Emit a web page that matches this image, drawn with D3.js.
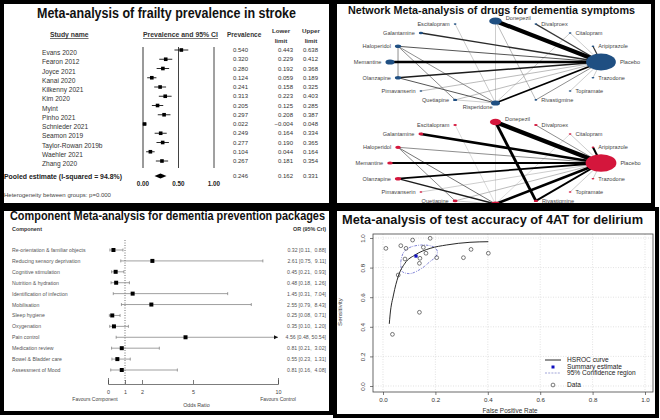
<!DOCTYPE html>
<html>
<head>
<meta charset="utf-8">
<script src="https://cdn.jsdelivr.net/npm/d3@7"></script>
<style>
  html, body { margin: 0; padding: 0; background: #fff; }
  svg { display: block; font-family: "Liberation Sans", Arial, sans-serif; }
</style>
</head>
<body>
<svg id="chart" width="660" height="420"></svg>
<script>
// ---------- data: frailty prevalence ----------
var frailtyStudies = ['Evans 2020', 'Fearon 2012', 'Joyce 2021', 'Kanai 2020', 'Kilkenny 2021', 'Kim 2020', 'Myint',
    'Pinho 2021', 'Schnieder 2021', 'Seamon 2019', 'Taylor-Rowan 2019b', 'Waehler 2021', 'Zhang 2020'];
var frailtyPrev = [0.540, 0.320, 0.280, 0.124, 0.241, 0.313, 0.205, 0.297, 0.022, 0.249, 0.277, 0.104, 0.267];
var frailtyLower = [0.443, 0.229, 0.192, 0.059, 0.158, 0.223, 0.125, 0.208, -0.004, 0.164, 0.190, 0.044, 0.181];
var frailtyUpper = [0.638, 0.412, 0.368, 0.189, 0.325, 0.403, 0.285, 0.387, 0.048, 0.334, 0.365, 0.164, 0.354];
var frailtyPooled = [0.246, 0.162, 0.331];
var frailtyTicks = [0, 0.5, 1];

// ---------- data: network meta-analysis ----------
var netNodes = ['Placebo', 'Aripiprazole', 'Citalopram', 'Divalproex', 'Donepezil', 'Escitalopram', 'Galantamine',
    'Haloperidol', 'Memantine', 'Olanzapine', 'Pimavanserin', 'Quetiapine', 'Risperidone', 'Rivastigmine',
    'Topiramate', 'Trazodone'];
var netSizeTop = [8.5, 0.8, 0.8, 0.8, 3.6, 0.8, 1.2, 1.8, 2.6, 1.8, 0.8, 1.2, 2.6, 0.8, 0.8, 0.8];
var netSizeBottom = [8.8, 0.8, 0.8, 1.0, 3.2, 1.0, 1.4, 1.6, 1.6, 1.8, 0.8, 1.4, 2.4, 1.2, 0.8, 0.8];
var netFrom = ['Placebo', 'Placebo', 'Placebo', 'Placebo', 'Placebo', 'Placebo', 'Placebo', 'Placebo', 'Placebo',
    'Placebo', 'Placebo', 'Placebo', 'Placebo', 'Placebo', 'Donepezil', 'Donepezil', 'Haloperidol', 'Haloperidol',
    'Haloperidol', 'Olanzapine', 'Quetiapine', 'Escitalopram', 'Citalopram'];
var netTo = ['Aripiprazole', 'Citalopram', 'Divalproex', 'Donepezil', 'Galantamine', 'Haloperidol', 'Memantine',
    'Olanzapine', 'Pimavanserin', 'Quetiapine', 'Risperidone', 'Rivastigmine', 'Topiramate', 'Trazodone',
    'Rivastigmine', 'Risperidone', 'Olanzapine', 'Quetiapine', 'Risperidone', 'Risperidone', 'Risperidone',
    'Risperidone', 'Risperidone'];
var netWidthTop = [1.2, 0.5, 1.2, 4.2, 1.3, 1.0, 2.6, 1.4, 0.6, 0.6, 1.8, 0.8, 0.5, 0.5, 0.6, 0.5, 0.8, 0.8, 0.8,
    1.0, 0.5, 0.5, 0.5];
var netWidthBottom = [2.0, 0.5, 0.8, 4.5, 2.6, 0.8, 1.8, 1.8, 0.5, 0.6, 2.6, 2.0, 0.5, 0.5, 2.8, 0.4, 0, 0.8, 0.9,
    1.4, 0.5, 0.4, 0.4];

// ---------- data: component meta-analysis ----------
var components = ['Re-orientation & familiar objects', 'Reducing sensory deprivation', 'Cognitive stimulation',
    'Nutrition & hydration', 'Identification of infection', 'Mobilisation', 'Sleep hygiene', 'Oxygenation',
    'Pain control', 'Medication review', 'Bowel & Bladder care', 'Assessment of Mood'];
var compOR = [0.32, 2.61, 0.45, 0.48, 1.45, 2.55, 0.25, 0.35, 4.56, 0.81, 0.55, 0.81];
var compLow = [0.11, 0.75, 0.21, 0.18, 0.31, 0.79, 0.08, 0.10, 0.48, 0.21, 0.23, 0.16];
var compHigh = [0.88, 9.11, 0.93, 1.26, 7.04, 8.43, 0.71, 1.20, 50.54, 3.02, 1.31, 4.08];
var compTicks = [0, 1, 2, 5, 10];

// ---------- data: 4AT test accuracy ----------
var studyFpr = [0.011, 0.068, 0.113, 0.180, 0.088, 0.154, 0.084, 0.141, 0.139, 0.164, 0.205, 0.307, 0.336, 0.402,
    0.058, 0.139, 0.036];
var studySens = [0.930, 0.948, 0.986, 0.998, 0.930, 0.937, 0.858, 0.863, 0.829, 0.897, 0.867, 0.867, 0.923, 0.897,
    0.750, 0.498, 0.349];
var summaryPoint = [0.126, 0.878];
var curveFpr = [0.024, 0.027, 0.040, 0.058, 0.084, 0.122, 0.180, 0.243, 0.332, 0.402];
var curveSens = [0.420, 0.480, 0.615, 0.740, 0.830, 0.885, 0.930, 0.953, 0.971, 0.975];
var regionFpr = [0.071, 0.068, 0.080, 0.109, 0.154, 0.192, 0.207, 0.202, 0.179, 0.148, 0.109, 0.080];
var regionSens = [0.784, 0.840, 0.907, 0.941, 0.953, 0.941, 0.912, 0.874, 0.840, 0.795, 0.761, 0.766];
var rocTicks = [0, 0.2, 0.4, 0.6, 0.8, 1];

var svg = d3.select('#chart');

var addText = function(g, x, y, str, size, opts) {
    opts = opts || {};
    var t = g.append('text')
        .attr('x', x)
        .attr('y', y)
        .attr('font-size', size)
        .attr('text-anchor', opts.anchor || 'start')
        .attr('font-weight', opts.bold ? 'bold' : 'normal')
        .attr('fill', opts.fill || '#222')
        .style('white-space', 'pre')
        .text(str);
    if (opts.width) {
        t.attr('textLength', opts.width).attr('lengthAdjust', 'spacingAndGlyphs');
    }
    if (opts.underline) {
        t.style('text-decoration', 'underline');
    }
    return t;
};

// ---------- panel 1: frailty forest plot ----------
var drawFrailty = function() {
    var g = svg.append('g');
    var fx = d3.scaleLinear().domain([0, 1]).range([143, 214]);
    var fy = d3.scalePoint().domain(frailtyStudies).range([50, 161]);
    var f3 = d3.format('.3f');

    addText(g, 37, 18, 'Meta-analysis of frailty prevalence in stroke', 14, {bold: true, width: 259, fill: '#111'});

    addText(g, 50, 37, 'Study name', 6.8, {bold: true, underline: true, fill: '#333'});
    addText(g, 143, 37, 'Prevalence and 95% CI', 6.5, {bold: true, underline: true, fill: '#333', width: 75});
    addText(g, 227, 37, 'Prevalence', 6.5, {bold: true, fill: '#333'});
    addText(g, 281, 33, 'Lower', 6.2, {bold: true, anchor: 'middle', fill: '#333'});
    addText(g, 281, 43, 'limit', 6.2, {bold: true, anchor: 'middle', fill: '#333'});
    addText(g, 311, 33, 'Upper', 6.2, {bold: true, anchor: 'middle', fill: '#333'});
    addText(g, 311, 43, 'limit', 6.2, {bold: true, anchor: 'middle', fill: '#333'});

    frailtyTicks.forEach(function(v, i) {
        g.append('line')
            .attr('x1', fx(v)).attr('x2', fx(v))
            .attr('y1', 47).attr('y2', 168)
            .style('stroke', i === 0 ? '#9a9a9a' : '#111')
            .style('stroke-width', i === 0 ? 2 : 0.8);
        addText(g, fx(v), 186, d3.format('.2f')(v), 6.3, {bold: true, anchor: 'middle', fill: '#222'});
    });

    frailtyStudies.forEach(function(name, i) {
        var y = fy(name);
        addText(g, 42, y + 5, name, 6.6, {fill: '#333'});
        g.append('line')
            .attr('x1', fx(frailtyLower[i])).attr('x2', fx(frailtyUpper[i]))
            .attr('y1', y).attr('y2', y)
            .style('stroke', '#111').style('stroke-width', 0.9);
        g.append('rect')
            .attr('x', fx(frailtyPrev[i]) - 1.8).attr('y', y - 1.8)
            .attr('width', 3.6).attr('height', 3.6)
            .attr('fill', '#000');
        addText(g, 248, y + 2, f3(frailtyPrev[i]), 6, {anchor: 'end', fill: '#333'});
        addText(g, 293, y + 2, f3(frailtyLower[i]), 6, {anchor: 'end', fill: '#333'});
        addText(g, 318, y + 2, f3(frailtyUpper[i]), 6, {anchor: 'end', fill: '#333'});
    });

    var py = 176;
    g.append('path')
        .attr('d', 'M' + fx(frailtyPooled[1]) + ',' + py + 'L' + fx(frailtyPooled[0]) + ',' + (py - 2.5) +
            'L' + fx(frailtyPooled[2]) + ',' + py + 'L' + fx(frailtyPooled[0]) + ',' + (py + 2.5) + 'Z')
        .attr('fill', '#000');
    addText(g, 4, py + 2.5, 'Pooled estimate (I-squared = 94.8%)', 6.4, {bold: true, fill: '#222', width: 118});
    addText(g, 248, py + 2, f3(frailtyPooled[0]), 6, {anchor: 'end', fill: '#333'});
    addText(g, 293, py + 2, f3(frailtyPooled[1]), 6, {anchor: 'end', fill: '#333'});
    addText(g, 318, py + 2, f3(frailtyPooled[2]), 6, {anchor: 'end', fill: '#333'});
    addText(g, 4, 197, 'Heterogeneity between groups: p=0.000', 6, {fill: '#444'});
};

// ---------- panel 2: network plots ----------
var drawNetwork = function(yRange, widths, sizes, fill) {
    var g = svg.append('g');
    var n = netNodes.length;
    var ang = d3.scaleLinear().domain([0, n]).range([0, 2 * Math.PI]);
    var nx = d3.scaleLinear().domain([-1, 1]).range([390, 601]);
    var ny = d3.scaleLinear().domain([-1, 1]).range(yRange);
    var edgeColor = d3.scaleLinear().domain([0.4, 1.6]).range(['#a9a9a9', '#000']).clamp(true);
    var pos = {};
    netNodes.forEach(function(name, i) {
        pos[name] = {x: nx(Math.cos(ang(i))), y: ny(Math.sin(ang(i))), c: Math.cos(ang(i)), s: Math.sin(ang(i)), r: sizes[i]};
    });

    var order = d3.range(netFrom.length).sort(function(a, b) { return widths[a] - widths[b]; });
    order.forEach(function(k) {
        if (!widths[k]) { return; }
        var a = pos[netFrom[k]], b = pos[netTo[k]];
        g.append('line')
            .attr('x1', a.x).attr('y1', a.y)
            .attr('x2', b.x).attr('y2', b.y)
            .style('stroke', edgeColor(widths[k]))
            .style('stroke-width', widths[k]);
    });

    netNodes.forEach(function(name) {
        var p = pos[name];
        g.append('ellipse')
            .attr('cx', p.x).attr('cy', p.y)
            .attr('rx', p.r * 1.75).attr('ry', p.r)
            .attr('fill', fill);
        var rx = p.r * 1.75;
        if (Math.abs(p.c) > 0.1) {
            addText(g, p.x + (p.c > 0 ? rx + 4 : -(rx + 4)), p.y + 2, name, 5.6,
                {anchor: p.c > 0 ? 'start' : 'end', fill: '#444'});
        } else if (p.s > 0) {
            addText(g, p.x + rx + 4, p.y - 1, name, 5.6, {fill: '#444'});
        } else {
            addText(g, p.x - 3, p.y + 6, name, 5.6, {anchor: 'end', fill: '#444'});
        }
    });
};

var drawNetworkPanel = function() {
    addText(svg, 348, 14, 'Network Meta-analysis of drugs for dementia symptoms', 11.5,
        {bold: true, width: 287, fill: '#111'});
    drawNetwork([103, 21], netWidthTop, netSizeTop, '#1f4f82');
    drawNetwork([204, 122], netWidthBottom, netSizeBottom, '#d4163c');
};

// ---------- panel 3: component forest plot ----------
var drawComponents = function() {
    var g = svg.append('g');
    var cx = d3.scaleLinear().domain([0, 10]).range([108, 278]);
    var cy = d3.scalePoint().domain(components).range([250, 370]);
    var f2 = d3.format('.2f');
    var pad = function(s) { return (s.length < 5 ? ' ' : '') + s; };

    addText(g, 10, 220, 'Component Meta-analysis for dementia prevention packages', 12.5,
        {bold: true, width: 315, fill: '#111'});
    addText(g, 12, 231, 'Component', 5.4, {bold: true, fill: '#333'});
    addText(g, 326, 231, 'OR (95% CrI)', 5.4, {bold: true, anchor: 'end', fill: '#333'});

    g.append('line')
        .attr('x1', cx(1)).attr('x2', cx(1))
        .attr('y1', 240).attr('y2', 384)
        .style('stroke', '#333').style('stroke-width', 0.7)
        .style('stroke-dasharray', '1,1.5');

    components.forEach(function(name, i) {
        var y = cy(name);
        var hi = Math.min(compHigh[i], 10);
        addText(g, 12, y + 2, name, 5.2, {fill: '#555'});
        g.append('line')
            .attr('x1', cx(compLow[i])).attr('x2', cx(hi))
            .attr('y1', y).attr('y2', y)
            .style('stroke', '#777').style('stroke-width', 0.7);
        g.append('line')
            .attr('x1', cx(compLow[i])).attr('x2', cx(compLow[i]))
            .attr('y1', y - 1.5).attr('y2', y + 1.5)
            .style('stroke', '#777').style('stroke-width', 0.7);
        if (compHigh[i] > 10) {
            g.append('path')
                .attr('d', 'M' + (cx(hi) - 4) + ',' + (y - 2) + 'L' + cx(hi) + ',' + y + 'L' + (cx(hi) - 4) + ',' + (y + 2) + 'Z')
                .attr('fill', '#111');
        } else {
            g.append('line')
                .attr('x1', cx(hi)).attr('x2', cx(hi))
                .attr('y1', y - 1.5).attr('y2', y + 1.5)
                .style('stroke', '#777').style('stroke-width', 0.7);
        }
        g.append('rect')
            .attr('x', cx(compOR[i]) - 2).attr('y', y - 2)
            .attr('width', 4).attr('height', 4)
            .attr('fill', '#000');
        addText(g, 326, y + 2, f2(compOR[i]) + ' [' + f2(compLow[i]) + ', ' + pad(f2(compHigh[i])) + ']', 5.2,
            {anchor: 'end', fill: '#555'});
    });

    var axis = g.append('g')
        .attr('transform', 'translate(0,384)')
        .call(d3.axisBottom(cx).tickValues(compTicks).tickSizeInner(-4).tickSizeOuter(-6).tickPadding(6)
            .tickFormat(d3.format('d')));
    axis.selectAll('path, line').style('stroke', '#444').style('stroke-width', 0.7);
    axis.selectAll('text').attr('font-size', 5.4).attr('fill', '#444').attr('font-family', 'Liberation Sans, Arial');

    addText(g, cx(0) - 13, 401, 'Favours Component', 5, {anchor: 'middle', fill: '#444'});
    addText(g, cx(10), 401, 'Favours Control', 5, {anchor: 'middle', fill: '#444'});
    addText(g, cx(5.2), 407, 'Odds Ratio', 5.3, {anchor: 'middle', fill: '#444'});
};

// ---------- panel 4: SROC ----------
var drawRoc = function() {
    var g = svg.append('g');
    var sx = d3.scaleLinear().domain([0, 1]).range([383, 645]);
    var sy = d3.scaleLinear().domain([0, 1]).range([386, 238]);

    addText(g, 342, 224, 'Meta-analysis of test accuracy of 4AT for delirium', 13, {bold: true, width: 301, fill: '#111'});

    rocTicks.forEach(function(v) {
        g.append('line')
            .attr('x1', sx(v)).attr('x2', sx(v)).attr('y1', 234).attr('y2', 392)
            .style('stroke', '#cfcfcf').style('stroke-width', 0.6).style('stroke-dasharray', '1,1.5');
        g.append('line')
            .attr('x1', 373).attr('x2', 653).attr('y1', sy(v)).attr('y2', sy(v))
            .style('stroke', '#cfcfcf').style('stroke-width', 0.6).style('stroke-dasharray', '1,1.5');
    });

    g.append('rect')
        .attr('x', 373).attr('y', 234).attr('width', 280).attr('height', 158)
        .attr('fill', 'none').style('stroke', '#444').style('stroke-width', 0.8);

    var xa = g.append('g')
        .attr('transform', 'translate(0,392)')
        .call(d3.axisBottom(sx).tickValues(rocTicks).tickSize(3).tickPadding(3).tickFormat(d3.format('.1f')));
    xa.select('.domain').remove();
    xa.selectAll('line').style('stroke', '#444').style('stroke-width', 0.7);
    xa.selectAll('text').attr('font-size', 6.2).attr('fill', '#333').attr('font-family', 'Liberation Sans, Arial');

    var ya = g.append('g')
        .attr('transform', 'translate(373,0)')
        .call(d3.axisLeft(sy).tickValues(rocTicks).tickSize(3).tickFormat(d3.format('.1f')));
    ya.select('.domain').remove();
    ya.selectAll('line').style('stroke', '#444').style('stroke-width', 0.7);
    ya.selectAll('text')
        .attr('transform', 'rotate(-90)')
        .attr('x', 0).attr('y', -8).attr('dy', 0)
        .attr('text-anchor', 'middle')
        .attr('font-size', 6.2).attr('fill', '#333').attr('font-family', 'Liberation Sans, Arial');

    addText(g, 510, 413, 'False Positive Rate', 6.4, {anchor: 'middle', fill: '#333'});
    addText(g, 0, 0, 'Sensitivity', 6.2, {anchor: 'middle', fill: '#333'})
        .attr('transform', 'translate(342,312) rotate(-90)');

    var region = d3.range(regionFpr.length).map(function(i) { return [sx(regionFpr[i]), sy(regionSens[i])]; });
    g.append('path')
        .attr('d', d3.line().curve(d3.curveCardinalClosed)(region))
        .attr('fill', 'none')
        .style('stroke', '#4b4fc4').style('stroke-width', 0.7)
        .style('stroke-dasharray', '2.5,1.2,0.8,1.2');

    var curve = d3.range(curveFpr.length).map(function(i) { return [sx(curveFpr[i]), sy(curveSens[i])]; });
    g.append('path')
        .attr('d', d3.line().curve(d3.curveMonotoneX)(curve))
        .attr('fill', 'none')
        .style('stroke', '#111').style('stroke-width', 0.9);

    studyFpr.forEach(function(v, i) {
        g.append('circle')
            .attr('cx', sx(v)).attr('cy', sy(studySens[i])).attr('r', 1.9)
            .attr('fill', 'none').style('stroke', '#222').style('stroke-width', 0.6);
    });

    g.append('rect')
        .attr('x', sx(summaryPoint[0]) - 1.6).attr('y', sy(summaryPoint[1]) - 1.6)
        .attr('width', 3.2).attr('height', 3.2).attr('fill', '#1010c0');

    // legend
    g.append('line').attr('x1', 545).attr('x2', 561).attr('y1', 360).attr('y2', 360)
        .style('stroke', '#111').style('stroke-width', 0.9);
    addText(g, 567, 362, 'HSROC curve', 6.6, {fill: '#222'});
    g.append('rect').attr('x', 551.5).attr('y', 365.5).attr('width', 3).attr('height', 3).attr('fill', '#1010c0');
    addText(g, 567, 368.5, 'Summary estimate', 6.6, {fill: '#222'});
    g.append('line').attr('x1', 545).attr('x2', 561).attr('y1', 373).attr('y2', 373)
        .style('stroke', '#7a7fc8').style('stroke-width', 0.7).style('stroke-dasharray', '2,1.2');
    addText(g, 567, 375, '95% Confidence region', 6.6, {fill: '#222'});
    g.append('circle').attr('cx', 553).attr('cy', 385).attr('r', 1.9)
        .attr('fill', 'none').style('stroke', '#222').style('stroke-width', 0.6);
    addText(g, 567, 387, 'Data', 6.6, {fill: '#222'});
};

drawFrailty();
drawNetworkPanel();
drawComponents();
drawRoc();

// panel frames
[[2, 2, 329, 203], [335, 2, 318, 203], [2, 209, 329, 204], [335, 209, 322, 207]].forEach(function(r) {
    svg.append('rect')
        .attr('x', r[0]).attr('y', r[1]).attr('width', r[2]).attr('height', r[3])
        .attr('fill', 'none').style('stroke', '#000').style('stroke-width', 4);
});
</script>
</body>
</html>
